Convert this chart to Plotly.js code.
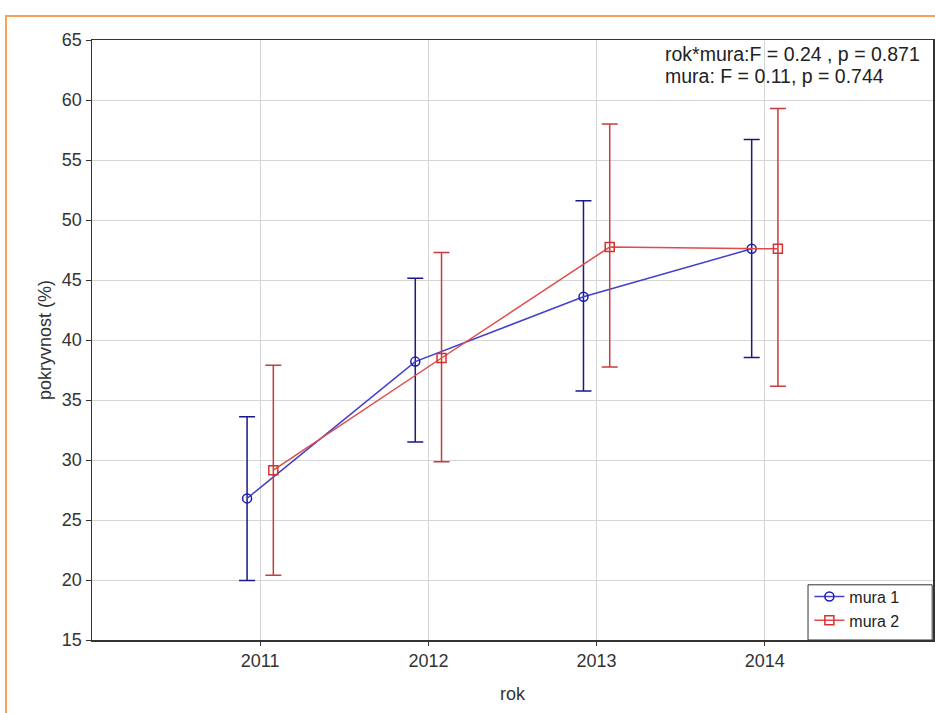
<!DOCTYPE html>
<html>
<head>
<meta charset="utf-8">
<script src="https://cdn.plot.ly/plotly-3.0.1.min.js"></script>
<style>
html,body{margin:0;padding:0;background:#fff;}
#wrap{position:relative;width:935px;height:713px;}
#chart{position:absolute;left:0;top:0;width:935px;height:713px;}
#frame{position:absolute;left:5px;top:15px;width:940px;height:710px;border-top:2px solid #f6a058;border-left:2px solid #f6a058;pointer-events:none;}
</style>
</head>
<body>
<div id="wrap"><div id="chart"></div><div id="frame"></div></div>
<script>
const years = [2011, 2012, 2013, 2014];
const mura1 = [26.8, 38.2, 43.6, 47.6];
const mura1Upper = [33.6, 45.15, 51.6, 56.7];
const mura1Lower = [19.95, 31.5, 35.75, 38.55];
const mura2 = [29.15, 38.5, 47.75, 47.6];
const mura2Upper = [37.9, 47.3, 58.0, 59.3];
const mura2Lower = [20.4, 29.85, 37.75, 36.15];
const tickLabels = ['2011', '2012', '2013', '2014'];
const statsText = ['rok*mura:F = 0.24 , p = 0.871', 'mura: F = 0.11, p = 0.744'];

const shift = 0.078;
function trace(name, vals, up, lo, off, color, lineColor, errColor, symbol) {
  return {
    x: years.map(y => y + off), y: vals, name: name, type: 'scatter', mode: 'lines+markers',
    line: {color: lineColor, width: 1.5},
    marker: {symbol: symbol, size: 9, color: 'rgba(255,255,255,0)', line: {color: color, width: 1.5}},
    error_y: {type: 'data', symmetric: false,
      array: up.map((u, i) => u - vals[i]), arrayminus: vals.map((v, i) => v - lo[i]),
      color: errColor, thickness: 1.5, width: 8}
  };
}
const data = [
  trace('mura 1', mura1, mura1Upper, mura1Lower, -shift, '#1c1cb0', '#4040cc', '#1a1a86', 'circle'),
  trace('mura 2', mura2, mura2Upper, mura2Lower, shift, '#d83030', '#e04a4a', '#c83c3c', 'square')
];
const layout = {
  width: 935, height: 713,
  margin: {l: 92, r: 2, t: 40, b: 73},
  paper_bgcolor: '#fff', plot_bgcolor: '#fff',
  font: {family: 'Liberation Sans, Arial, sans-serif', size: 18, color: '#333'},
  showlegend: true,
  legend: {x: 0.853, y: 0.004, xanchor: 'left', yanchor: 'bottom', bgcolor: 'rgba(255,255,255,0)',
    borderwidth: 0, font: {size: 16, color: '#222'}, tracegroupgap: 0, itemwidth: 30},
  shapes: [{type: 'rect', xref: 'paper', yref: 'paper', x0: 0.8514, x1: 0.999, y0: 0, y1: 0.092,
    fillcolor: '#fff', line: {color: '#333', width: 1}, layer: 'above'}],
  xaxis: {range: [2010, 2015], tickvals: years, ticktext: tickLabels,
    showgrid: true, gridcolor: '#d6d6d6', gridwidth: 1, zeroline: false,
    showline: true, linecolor: '#333', linewidth: 1.5, mirror: true,
    ticks: 'outside', ticklen: 4, tickcolor: '#333', tickfont: {size: 18, color: '#333'},
    title: {text: 'rok', font: {size: 18, color: '#333'}, standoff: 17}},
  yaxis: {range: [15, 65], dtick: 5, tick0: 15,
    showgrid: true, gridcolor: '#d6d6d6', gridwidth: 1, zeroline: false,
    showline: true, linecolor: '#333', linewidth: 1.5, mirror: true,
    ticks: 'outside', ticklen: 5, tickcolor: '#333', tickfont: {size: 18, color: '#333'},
    title: {text: 'pokryvnost (%)', font: {size: 18, color: '#333'}, standoff: 5}},
  annotations: statsText.map((t, i) => ({
    xref: 'paper', yref: 'paper', x: 0.679, y: [0.976, 0.940][i], xanchor: 'left', yanchor: 'middle',
    text: t, showarrow: false, align: 'left',
    font: {size: 19.5, color: '#222'}, bgcolor: 'rgba(255,255,255,0)'
  }))
};
Plotly.newPlot('chart', data, layout, {displayModeBar: false, staticPlot: true});
</script>
</body>
</html>
